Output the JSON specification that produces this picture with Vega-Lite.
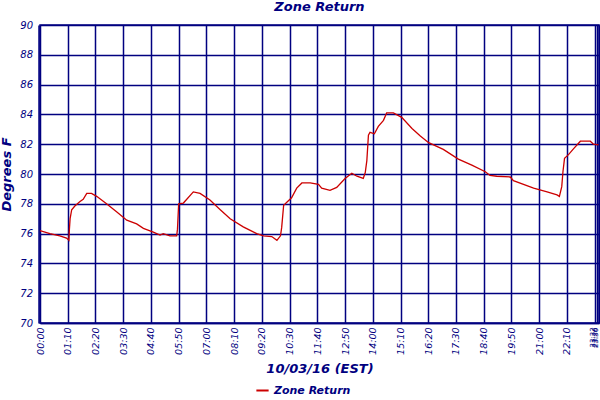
{
  "$schema": "https://vega.github.io/schema/vega-lite/v6.json",
  "autosize": {"type": "none"},
  "padding": {"left": 40, "top": 25, "right": 1, "bottom": 77},
  "width": 559,
  "height": 298,
  "background": "white",
  "title": {"text": "Zone Return", "font": "DejaVu Sans", "fontStyle": "italic", "fontWeight": "bold", "fontSize": 13, "color": "#000080", "anchor": "middle", "offset": 6},
  "data": {"values": [
    {"t":0,"v":76.2,"s":"Zone Return"},{"t":25,"v":76.0,"s":"Zone Return"},{"t":50,"v":75.85,"s":"Zone Return"},{"t":67,"v":75.7,"s":"Zone Return"},{"t":73,"v":75.55,"s":"Zone Return"},{"t":74,"v":76.2,"s":"Zone Return"},{"t":76,"v":77.0,"s":"Zone Return"},{"t":80,"v":77.6,"s":"Zone Return"},{"t":88,"v":77.85,"s":"Zone Return"},{"t":101,"v":78.15,"s":"Zone Return"},{"t":109,"v":78.3,"s":"Zone Return"},{"t":118,"v":78.7,"s":"Zone Return"},{"t":130,"v":78.7,"s":"Zone Return"},{"t":143,"v":78.5,"s":"Zone Return"},{"t":168,"v":78.0,"s":"Zone Return"},{"t":194,"v":77.45,"s":"Zone Return"},{"t":219,"v":76.9,"s":"Zone Return"},{"t":244,"v":76.65,"s":"Zone Return"},{"t":261,"v":76.35,"s":"Zone Return"},{"t":286,"v":76.1,"s":"Zone Return"},{"t":303,"v":75.9,"s":"Zone Return"},{"t":311,"v":76.0,"s":"Zone Return"},{"t":328,"v":75.85,"s":"Zone Return"},{"t":345,"v":75.85,"s":"Zone Return"},{"t":347,"v":76.3,"s":"Zone Return"},{"t":350,"v":78.0,"s":"Zone Return"},{"t":362,"v":78.05,"s":"Zone Return"},{"t":387,"v":78.8,"s":"Zone Return"},{"t":404,"v":78.7,"s":"Zone Return"},{"t":429,"v":78.25,"s":"Zone Return"},{"t":455,"v":77.6,"s":"Zone Return"},{"t":480,"v":77.0,"s":"Zone Return"},{"t":513,"v":76.45,"s":"Zone Return"},{"t":547,"v":76.0,"s":"Zone Return"},{"t":564,"v":75.85,"s":"Zone Return"},{"t":585,"v":75.8,"s":"Zone Return"},{"t":598,"v":75.55,"s":"Zone Return"},{"t":607,"v":75.85,"s":"Zone Return"},{"t":610,"v":76.4,"s":"Zone Return"},{"t":615,"v":77.9,"s":"Zone Return"},{"t":623,"v":78.1,"s":"Zone Return"},{"t":635,"v":78.4,"s":"Zone Return"},{"t":648,"v":79.05,"s":"Zone Return"},{"t":661,"v":79.4,"s":"Zone Return"},{"t":682,"v":79.4,"s":"Zone Return"},{"t":703,"v":79.3,"s":"Zone Return"},{"t":711,"v":79.05,"s":"Zone Return"},{"t":732,"v":78.9,"s":"Zone Return"},{"t":749,"v":79.1,"s":"Zone Return"},{"t":770,"v":79.7,"s":"Zone Return"},{"t":787,"v":80.05,"s":"Zone Return"},{"t":800,"v":79.85,"s":"Zone Return"},{"t":816,"v":79.7,"s":"Zone Return"},{"t":821,"v":80.1,"s":"Zone Return"},{"t":825,"v":80.9,"s":"Zone Return"},{"t":829,"v":82.6,"s":"Zone Return"},{"t":833,"v":82.8,"s":"Zone Return"},{"t":844,"v":82.7,"s":"Zone Return"},{"t":854,"v":83.2,"s":"Zone Return"},{"t":867,"v":83.6,"s":"Zone Return"},{"t":875,"v":84.1,"s":"Zone Return"},{"t":892,"v":84.1,"s":"Zone Return"},{"t":913,"v":83.8,"s":"Zone Return"},{"t":939,"v":83.05,"s":"Zone Return"},{"t":960,"v":82.55,"s":"Zone Return"},{"t":981,"v":82.1,"s":"Zone Return"},{"t":1018,"v":81.65,"s":"Zone Return"},{"t":1056,"v":81.0,"s":"Zone Return"},{"t":1090,"v":80.6,"s":"Zone Return"},{"t":1124,"v":80.15,"s":"Zone Return"},{"t":1136,"v":79.9,"s":"Zone Return"},{"t":1153,"v":79.85,"s":"Zone Return"},{"t":1187,"v":79.8,"s":"Zone Return"},{"t":1195,"v":79.55,"s":"Zone Return"},{"t":1246,"v":79.05,"s":"Zone Return"},{"t":1280,"v":78.8,"s":"Zone Return"},{"t":1305,"v":78.6,"s":"Zone Return"},{"t":1311,"v":78.5,"s":"Zone Return"},{"t":1317,"v":79.15,"s":"Zone Return"},{"t":1320,"v":80.15,"s":"Zone Return"},{"t":1324,"v":81.05,"s":"Zone Return"},{"t":1334,"v":81.3,"s":"Zone Return"},{"t":1347,"v":81.7,"s":"Zone Return"},{"t":1364,"v":82.2,"s":"Zone Return"},{"t":1389,"v":82.2,"s":"Zone Return"},{"t":1397,"v":82.0,"s":"Zone Return"},{"t":1410,"v":81.95,"s":"Zone Return"}
  ]},
  "mark": {"type": "line", "strokeWidth": 1.3, "interpolate": "linear"},
  "encoding": {
    "x": {
      "field": "t", "type": "quantitative",
      "scale": {"domain": [0, 1411], "nice": false, "zero": false},
      "axis": {
        "title": "10/03/16 (EST)",
        "titleFont": "DejaVu Sans", "titleFontStyle": "italic", "titleFontWeight": "bold", "titleFontSize": 13, "titleColor": "#000080", "titlePadding": 8,
        "values": [0,70,140,210,280,350,420,490,560,630,700,770,840,910,980,1050,1120,1190,1260,1330,1402,1406,1410],
        "labelExpr": "pad(toString(floor(datum.value/60)),2,'0','left') + ':' + pad(toString(datum.value%60),2,'0','left')",
        "labelAngle": 270, "labelFont": "DejaVu Sans", "labelFontStyle": "italic",
        "labelFontSize": {"condition": {"test": "datum.value > 1400", "value": 7}, "value": 9.5},
        "labelOffset": {"condition": {"test": "datum.value > 1400", "value": -3}, "value": 0},
        "labelColor": "#000080", "labelPadding": 4, "labelOverlap": false, "labelFlush": false,
        "ticks": false, "grid": true, "gridColor": "#000080", "gridWidth": 1.5, "gridOpacity": 1,
        "domain": true, "domainColor": "#000080", "domainWidth": 1.5
      }
    },
    "y": {
      "field": "v", "type": "quantitative",
      "scale": {"domain": [70, 90], "nice": false, "zero": false},
      "axis": {
        "title": "Degrees F",
        "titleFont": "DejaVu Sans", "titleFontStyle": "italic", "titleFontWeight": "bold", "titleFontSize": 13, "titleColor": "#000080", "titlePadding": 6,
        "values": [70,72,74,76,78,80,82,84,86,88,90],
        "labelFont": "DejaVu Sans", "labelFontStyle": "italic", "labelFontSize": 10, "labelColor": "#000080", "labelPadding": 6,
        "ticks": false, "grid": true, "gridColor": "#000080", "gridWidth": 1.5, "gridOpacity": 1,
        "domain": true, "domainColor": "#000080", "domainWidth": 1.5, "offset": 1.5
      }
    },
    "color": {
      "field": "s", "type": "nominal",
      "scale": {"domain": ["Zone Return"], "range": ["#CC0000"]},
      "legend": {
        "title": null, "orient": "none", "legendX": 215, "legendY": 358,
        "symbolType": "stroke", "symbolSize": 150, "symbolStrokeWidth": 2,
        "labelFont": "DejaVu Sans", "labelFontStyle": "italic", "labelFontWeight": "bold", "labelFontSize": 11, "labelColor": "#000080"
      }
    }
  },
  "config": {"view": {"stroke": "#000080", "strokeWidth": 1.5}}
}
